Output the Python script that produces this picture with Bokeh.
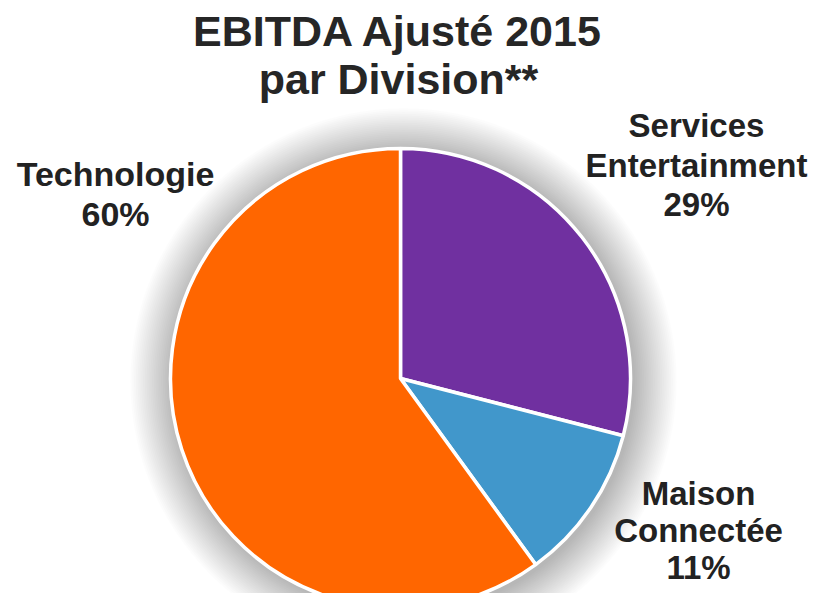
from bokeh.plotting import figure
from bokeh.models import Range1d
from bokeh.embed import file_html
from bokeh.resources import INLINE
from bokeh.core.properties import value
import numpy as np

# ---- data ----
categories = ["Services Entertainment", "Maison Connectée", "Technologie"]
values = [29, 11, 60]
colors = ["#7030A0", "#4197CB", "#FF6600"]
label_lines = [["Services", "Entertainment"], ["Maison", "Connectée"], ["Technologie"]]
title_lines = ["EBITDA Ajusté 2015", "par Division**"]

W, H = 809, 593
p = figure(width=W, height=H, output_backend="svg", toolbar_location=None,
           x_range=Range1d(0, W), y_range=Range1d(-H, 0),
           min_border=0, outline_line_color=None)
p.axis.visible = False
p.grid.visible = False
p.background_fill_color = "white"
p.border_fill_color = "white"

cx, cy, r = 400, -378, 230

# soft shadow
n = 24
for i in range(n, 0, -1):
    p.circle(x=[cx + 3], y=[cy - 3], radius=r + i * 1.8, fill_color="black",
             fill_alpha=0.013, line_color=None)

# wedges
vals = np.array(values, dtype=float)
frac = vals / vals.sum()
ends = np.pi / 2 - 2 * np.pi * np.cumsum(frac)
starts = np.concatenate([[np.pi / 2], ends[:-1]])
p.wedge(x=cx, y=cy, radius=r, start_angle=list(starts), end_angle=list(ends),
        direction="clock", fill_color=colors, line_color="white", line_width=3.5)

font = value("Liberation Sans")
# title (y given as visual baseline; renderer shifts alphabetic text ~0.42em down)
for i, t in enumerate(title_lines):
    p.text(x=[398], y=[-(48 + i * 48 - 18)], text=[t], text_font=font,
           text_font_size="43px", text_font_style="bold", text_color="#262626",
           text_align="center", text_baseline="alphabetic")

# labels: (x, first baseline, line spacing, font size px)
label_pos = [(696, 138, 39.5, 33), (698, 506, 37, 33), (115, 187, 40, 34)]
for (lx, ly, dy, fs), lines, v in zip(label_pos, label_lines, values):
    all_lines = lines + [f"{v}%"]
    for j, t in enumerate(all_lines):
        p.text(x=[lx], y=[-(ly + j * dy - 0.385 * fs)], text=[t], text_font=font,
               text_font_size=f"{fs}px", text_font_style="bold", text_color="#222222",
               text_align="center", text_baseline="alphabetic")

open("out.html", "w").write(file_html(p, INLINE))
